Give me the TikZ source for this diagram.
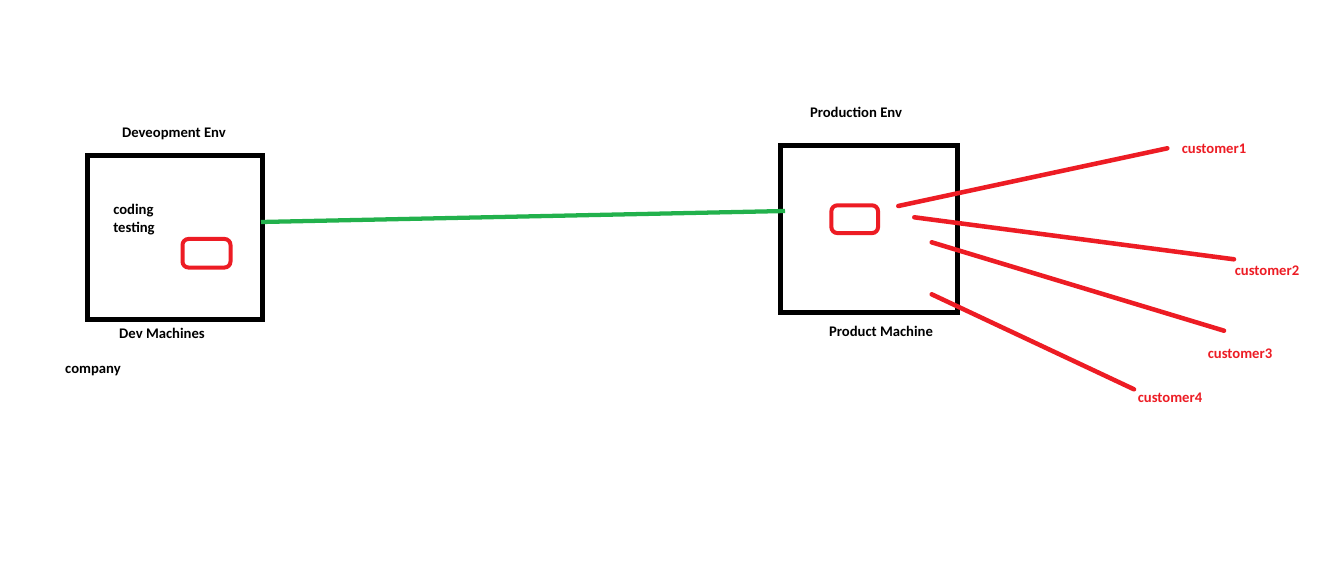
\documentclass[tikz,border=0pt]{standalone}
\usepackage{fontspec}
\setmainfont{Carlito}
\definecolor{pred}{HTML}{ED1C24}
\definecolor{pgreen}{HTML}{22B14C}
\begin{document}
\begin{tikzpicture}[x=0.75pt,y=-0.75pt,
  lbl/.style={font=\fontsize{11}{13}\selectfont\bfseries, inner sep=0pt},
  rlbl/.style={lbl, text=pred},
  bigbox/.style={draw=black, line width=3.75pt, inner sep=0pt},
  redbox/.style={draw=pred, line width=3pt, rounded corners=4.5pt, inner sep=0pt},
  redline/.style={draw=pred, line width=3.4pt, line cap=round},
  greenline/.style={draw=pgreen, line width=3.2pt}]
\useasboundingbox (0,0) rectangle (1330,574);
\fill[white] (0,0) rectangle (1330,574);
% Development
\node[bigbox, minimum width=131.25pt, minimum height=122.25pt] (dev) at (175,237.5) {};
\node[redbox, minimum width=36pt, minimum height=21.4pt] (devr) at (206.5,253.25) {};
\node[lbl] (devenv) at (174,134) {Deveopment Env};
\node[lbl, anchor=base west] (coding) at (113,214) {coding};
\node[lbl, anchor=base west] (testing) at (113,232) {testing};
\node[lbl] (devm) at (162,333) {Dev Machines};
\node[lbl] (comp) at (93,371) {company};
% Production
\node[bigbox, minimum width=132.4pt, minimum height=125.6pt] (prod) at (869.25,228.75) {};
\node[redbox, minimum width=35pt, minimum height=20.8pt] (prodr) at (854.7,219.2) {};
\node[lbl] (prodenv) at (856,112) {Production Env};
\node[lbl] (prodm) at (881,331) {Product Machine};
% green link
\coordinate (g1) at (261,222);
\coordinate (g2) at (785,211);
\draw[greenline] (g1) -- (g2);
% customers
\node[rlbl] (c1) at (1214,148.5) {customer1};
\node[rlbl] (c2) at (1267,270.5) {customer2};
\node[rlbl] (c3) at (1240,353.5) {customer3};
\node[rlbl] (c4) at (1170,397.5) {customer4};
\coordinate (s1) at (898.3,206);
\coordinate (e1) at (1167.3,148.3);
\coordinate (s2) at (914.3,217.3);
\coordinate (e2) at (1234,259.3);
\coordinate (s3) at (931.7,242.3);
\coordinate (e3) at (1224,330.7);
\coordinate (s4) at (931.7,294.3);
\coordinate (e4) at (1134,389.3);
\draw[redline] (s1) -- (e1);
\draw[redline] (s2) -- (e2);
\draw[redline] (s3) -- (e3);
\draw[redline] (s4) -- (e4);
\end{tikzpicture}
\end{document}
